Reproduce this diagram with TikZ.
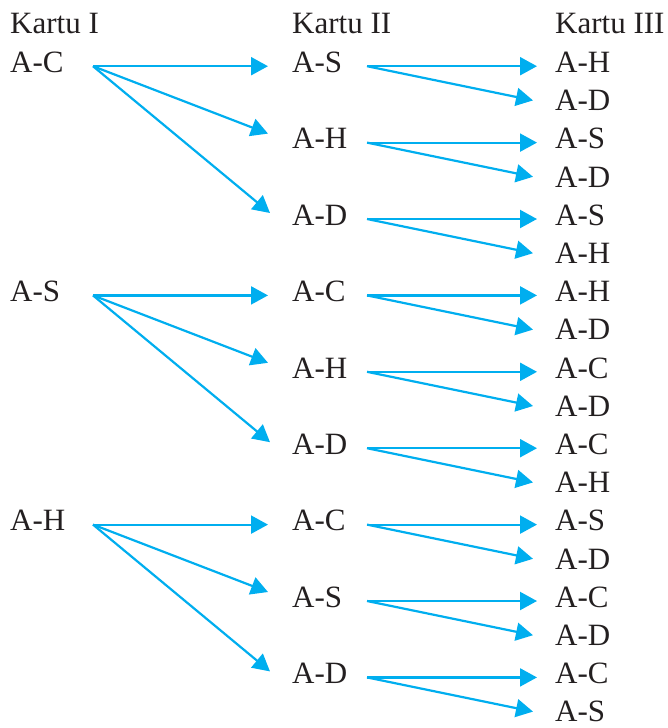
\documentclass[tikz,border=0pt]{standalone}
\usepackage{fontspec}
\setmainfont{Liberation Serif}
\usetikzlibrary{arrows.meta}
\definecolor{cPanah}{HTML}{00AEEF}
\definecolor{cTeks}{HTML}{231F20}

\begin{document}
\begin{tikzpicture}[
    x=1pt, y=-1pt,
    lbl/.style={anchor=base west, inner sep=0pt, text=cTeks,
                font=\fontsize{31}{37}\selectfont},
    arr/.style={-{Triangle[length=17pt, width=18pt]}, draw=cPanah, line width=2.2pt},
]
\useasboundingbox (0,0) rectangle (668,728);

\def\dy{38.2}    % jarak baris Kartu III
\def\yo{72.5}    % garis dasar baris pertama

% ===================== Judul kolom =====================
\node[lbl] (judulI)   at (10,33)  {Kartu I};
\node[lbl] (judulII)  at (292,33) {Kartu II};
\node[lbl] (judulIII) at (555,33) {Kartu III};

% ===================== Kartu I =====================
\foreach \t [count=\i] in {A-C,A-S,A-H} {
    \node[lbl] (a\i) at (10,{\yo+(\i-1)*6*\dy}) {\t};
}

% ===================== Kartu II =====================
\foreach \t [count=\i] in {A-S,A-H,A-D,A-C,A-H,A-D,A-C,A-S,A-D} {
    \node[lbl] (b\i) at (292,{\yo+(\i-1)*2*\dy}) {\t};
}

% ===================== Kartu III =====================
\foreach \t [count=\i] in {A-H,A-D,A-S,A-D,A-S,A-H,A-H,A-D,A-C,A-D,A-C,A-H,A-S,A-D,A-C,A-D,A-C,A-S} {
    \node[lbl] (c\i) at (555,{\yo+(\i-1)*\dy}) {\t};
}

% ===================== Panah Kartu I -> Kartu II =====================
\foreach \j in {1,2,3} {
    \pgfmathtruncatemacro{\ka}{3*\j-2}
    \pgfmathtruncatemacro{\kb}{3*\j-1}
    \pgfmathtruncatemacro{\kc}{3*\j}
    \draw[arr] ([xshift=83pt, yshift=4pt]a\j.mid west) -- ([xshift=-24pt, yshift=4pt]b\ka.mid west);
    \draw[arr] ([xshift=83pt, yshift=4pt]a\j.mid west) -- ([xshift=-24pt, yshift=13pt]b\kb.mid west);
    \draw[arr] ([xshift=83pt, yshift=4pt]a\j.mid west) -- ([xshift=-22pt, yshift=10pt]b\kc.mid west);
}

% ===================== Panah Kartu II -> Kartu III =====================
\foreach \i in {1,...,9} {
    \pgfmathtruncatemacro{\ma}{2*\i-1}
    \pgfmathtruncatemacro{\mb}{2*\i}
    \draw[arr] ([xshift=75pt, yshift=4pt]b\i.mid west) -- ([xshift=-18pt, yshift=4pt]c\ma.mid west);
    \draw[arr] ([xshift=75pt, yshift=4pt]b\i.mid west) -- ([xshift=-22pt, yshift=8pt]c\mb.mid west);
}

\end{tikzpicture}
\end{document}
